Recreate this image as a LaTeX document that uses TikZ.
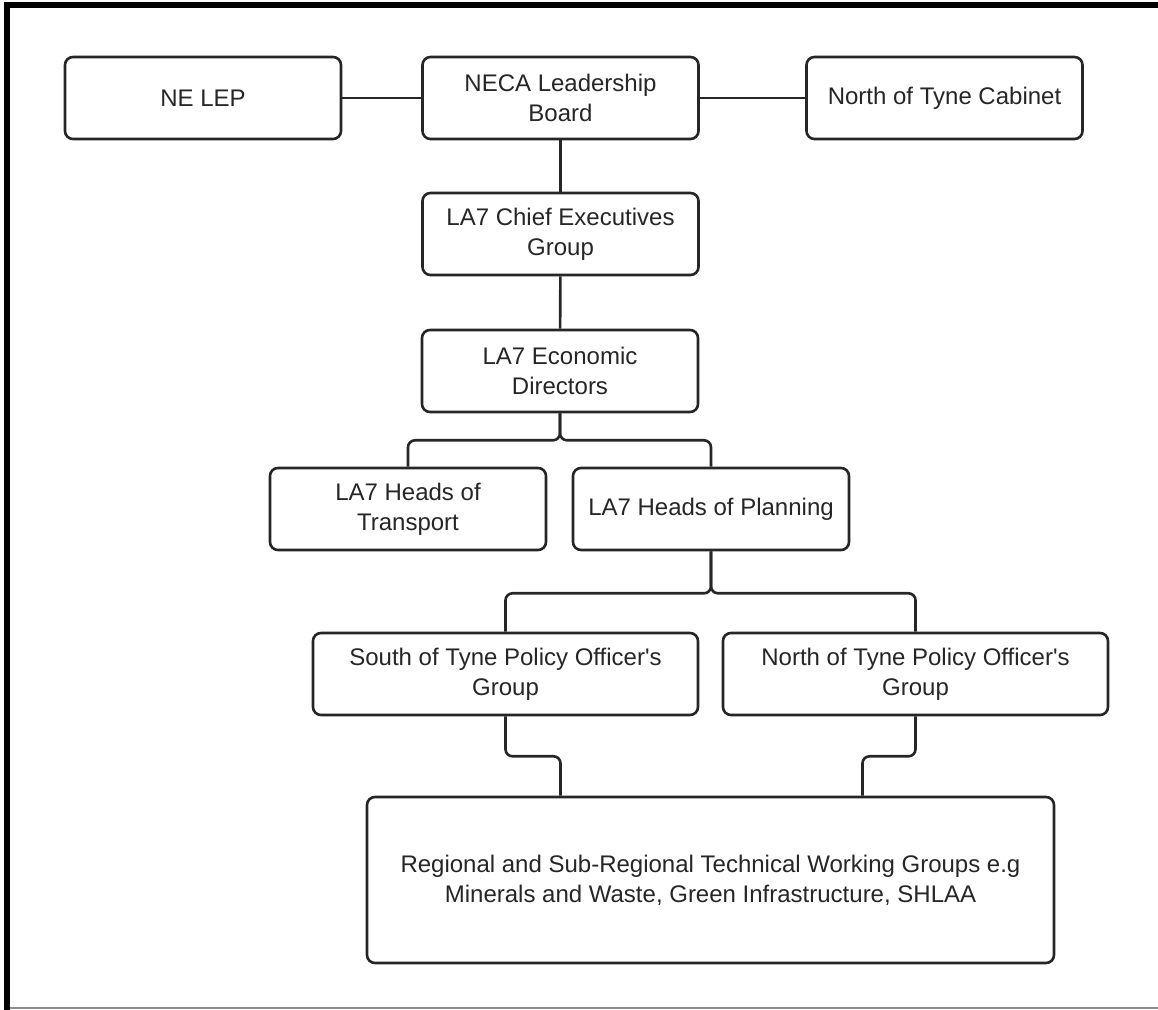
\documentclass[tikz,border=0pt]{standalone}
\usepackage{fontspec}
\setmainfont{Liberation Sans}
\usepackage{tikz}
\usetikzlibrary{calc}

\begin{document}
\begin{tikzpicture}[x=0.5pt,y=-0.5pt,
    box/.style={draw=black!85,line width=1.3pt,rounded corners=4pt,fill=white,
      minimum width=138pt,minimum height=41pt,align=center,inner sep=2pt,
      text=black!85,font=\fontsize{12}{15}\selectfont},
    link/.style={draw=black!85,line width=1.3pt,rounded corners=3.5pt}]
              \useasboundingbox (0,0) rectangle (1158,1010);
              \draw[line width=3pt] (7,1010) -- (7,5.5) -- (1158,5.5);
              \draw[black!45,line width=0.6pt] (10,1008) -- (1158,1008);
              \node[box](nelep)at(203,98){NE LEP};
              \node[box](neca)at(560.5,98){NECA Leadership\\Board};
              \node[box](cabinet)at(944.5,98){North of Tyne Cabinet};
              \node[box](chiefs)at(560.5,234){LA7 Chief Executives\\Group};
              \node[box](econ)at(560,371){LA7 Economic\\Directors};
              \node[box](transport)at(408,509){LA7 Heads of\\Transport};
              \node[box](planning)at(711,509){LA7 Heads of Planning};
              \node[box,minimum width=192.5pt](south)at(505.5,674){South of Tyne Policy Officer\textquotesingle s\\Group};
              \node[box,minimum width=192.5pt](north)at(915.5,674){North of Tyne Policy Officer\textquotesingle s\\Group};
              \node[box,minimum width=343.5pt,minimum height=83pt](regional)at(710.5,880){Regional and Sub-Regional Technical Working Groups e.g\\Minerals and Waste, Green Infrastructure, SHLAA};
              \draw[link](nelep)--(neca);
              \draw[link](neca)--(cabinet);
              \draw[link](neca)--(chiefs);
              \draw[link](chiefs)--(econ);
              \draw[link](econ.south)--++(0,27)-|(transport.north);
              \draw[link](econ.south)--++(0,27)-|(planning.north);
              \draw[link](planning.south)--++(0,42)-|(south.north);
              \draw[link](planning.south)--++(0,42)-|(north.north);
              \draw[link](south.south)--++(0,40)-|([xshift=-75pt]regional.north);
              \draw[link](north.south)--++(0,40)-|([xshift=76pt]regional.north);
            \end{tikzpicture}
\end{document}
